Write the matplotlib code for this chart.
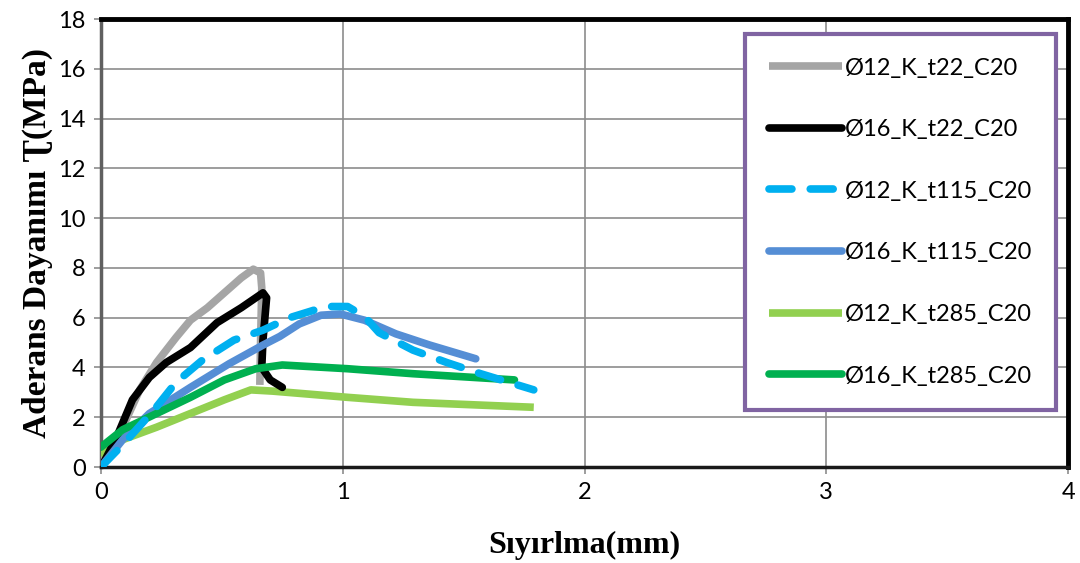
import matplotlib
matplotlib.use("Agg")
import matplotlib.pyplot as plt

# data (slip in mm, bond stress in MPa)
x_12_t22 = [0.0, 0.01, 0.09, 0.16, 0.23, 0.31, 0.37, 0.44, 0.51, 0.58, 0.63, 0.66, 0.665, 0.66, 0.657]
y_12_t22 = [0.0, 0.4, 1.6, 3.1, 4.2, 5.2, 5.9, 6.4, 7.0, 7.6, 7.95, 7.8, 7.2, 5.0, 3.3]

x_16_t22 = [0.0, 0.01, 0.065, 0.13, 0.2, 0.27, 0.37, 0.48, 0.58, 0.67, 0.685, 0.67, 0.665, 0.70, 0.75]
y_16_t22 = [0.0, 0.15, 1.2, 2.7, 3.6, 4.2, 4.8, 5.8, 6.4, 7.0, 6.8, 5.1, 4.0, 3.5, 3.2]

x_12_t115 = [0.0, 0.1, 0.22, 0.31, 0.42, 0.55, 0.67, 0.78, 0.88, 0.95, 1.02, 1.09, 1.15, 1.29, 1.43, 1.57, 1.79]
y_12_t115 = [0.0, 1.0, 2.3, 3.4, 4.3, 5.1, 5.5, 6.0, 6.3, 6.45, 6.45, 6.05, 5.4, 4.7, 4.2, 3.75, 3.1]

x_16_t115 = [0.0, 0.09, 0.2, 0.37, 0.53, 0.67, 0.74, 0.82, 0.91, 0.99, 1.09, 1.22, 1.36, 1.55]
y_16_t115 = [0.0, 1.1, 2.15, 3.2, 4.15, 4.9, 5.25, 5.75, 6.1, 6.15, 5.9, 5.35, 4.9, 4.35]

x_12_t285 = [0.0, 0.09, 0.23, 0.37, 0.51, 0.62, 0.71, 1.02, 1.29, 1.79]
y_12_t285 = [0.45, 1.1, 1.6, 2.15, 2.7, 3.1, 3.05, 2.8, 2.6, 2.4]

x_16_t285 = [0.0, 0.09, 0.23, 0.37, 0.51, 0.64, 0.75, 1.02, 1.29, 1.71]
y_16_t285 = [0.8, 1.5, 2.15, 2.8, 3.5, 3.95, 4.1, 3.95, 3.75, 3.5]

labels = ["Ø12_K_t22_C20", "Ø16_K_t22_C20", "Ø12_K_t115_C20",
          "Ø16_K_t115_C20", "Ø12_K_t285_C20", "Ø16_K_t285_C20"]

fig = plt.figure(figsize=(10.8, 5.63), dpi=100)
ax = fig.add_axes([0.0935, 0.1705, 0.8955, 0.7955])

lw = 5.5
ax.plot(x_12_t22, y_12_t22, color="#A5A5A5", lw=lw, solid_capstyle="butt", label=labels[0], zorder=3)
ax.plot(x_16_t22, y_16_t22, color="#000000", lw=lw, solid_capstyle="round", label=labels[1], zorder=4)
ax.plot(x_12_t115, y_12_t115, color="#00B0F0", lw=lw, ls=(0, (3.0, 2.4)), dash_capstyle="round",
        label=labels[2], zorder=5)
ax.plot(x_16_t115, y_16_t115, color="#558ED5", lw=lw, solid_capstyle="round", label=labels[3], zorder=4)
ax.plot(x_12_t285, y_12_t285, color="#92D050", lw=lw, solid_capstyle="butt", label=labels[4], zorder=3)
ax.plot(x_16_t285, y_16_t285, color="#00B050", lw=lw, solid_capstyle="round", label=labels[5], zorder=4)

ax.set_xlim(0, 4)
ax.set_ylim(0, 18)
ax.set_xticks([0, 1, 2, 3, 4])
ax.set_yticks(range(0, 19, 2))
ax.grid(True, color="#8C8C8C", lw=1.2)
ax.set_axisbelow(True)

for side in ["top", "right"]:
    ax.spines[side].set_color("black")
    ax.spines[side].set_linewidth(3.5)
ax.spines["bottom"].set_color("#1a1a1a")
ax.spines["bottom"].set_linewidth(2.5)
ax.spines["left"].set_color("#606060")
ax.spines["left"].set_linewidth(2.5)

ax.tick_params(axis="both", direction="out", length=5, width=1.2, color="#8C8C8C",
               labelsize=17, pad=6)
for t in ax.get_xticklabels() + ax.get_yticklabels():
    t.set_family(["Lato", "DejaVu Sans"])

ax.set_xlabel("Sıyırlma(mm)", fontsize=23, fontweight="bold",
              family=["Liberation Serif", "DejaVu Serif"], labelpad=20)
ax.set_ylabel("Aderans Dayanımı Ʈ(MPa)", fontsize=24, fontweight="bold",
              family=["Liberation Serif", "DejaVu Serif"], labelpad=4)

leg = ax.legend(loc="upper right", bbox_to_anchor=(0.987, 0.967), frameon=True, fancybox=False,
                prop={"family": ["Lato", "DejaVu Sans"], "size": 17},
                handlelength=3.1, handletextpad=0.1, labelspacing=1.72,
                borderpad=1.0, borderaxespad=0)
frame = leg.get_frame()
frame.set_edgecolor("#8064A2")
frame.set_linewidth(3)
frame.set_facecolor("white")
frame.set_alpha(1)

fig.savefig("out.png", dpi=100)
